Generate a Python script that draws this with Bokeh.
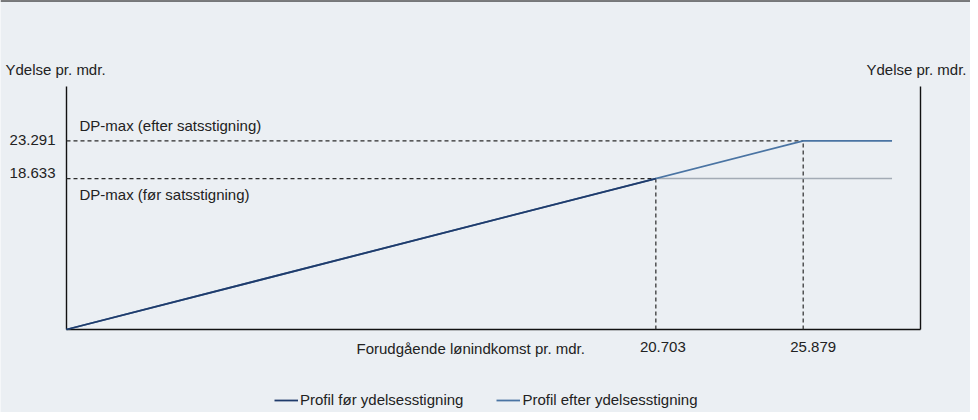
from bokeh.plotting import figure
from bokeh.models import Range1d, Label, Legend, LegendItem, ColumnDataSource
from bokeh.embed import file_html
from bokeh.resources import INLINE

# ---- data ----
dp_max = [18633, 23291]            # before / after rate increase
income_threshold = [20703, 25879]  # income where max is reached
x_end = 29000
profile_before_x = [0, income_threshold[0]]
profile_before_y = [0, dp_max[0]]
profile_before_flat_x = [income_threshold[0], x_end]
profile_before_flat_y = [dp_max[0], dp_max[0]]
profile_after_x = [0, income_threshold[1], x_end]
profile_after_y = [0, dp_max[1], dp_max[1]]
tick_labels_x = ["20.703", "25.879"]
tick_labels_y = ["18.633", "23.291"]
axis_max = 30000

BG = "#ebeff3"
FONT = "Liberation Sans"
FS = "15px"
TXT = "#222222"

# layout: canvas 970x412, axis box from px (66, 86) to (920, 329)
W, H = 970, 412
L, R, T, B = 66, 920, 86, 329
sx = axis_max / (R - L)
sy = axis_max / (B - T)
x_range = Range1d(-L * sx, (W - L) * sx)
y_range = Range1d(-(H - B) * sy, axis_max + T * sy)

p = figure(width=W, height=H, output_backend="svg", toolbar_location=None,
           x_range=x_range, y_range=y_range,
           min_border=0, min_border_left=0, min_border_right=0,
           min_border_top=0, min_border_bottom=0,
           background_fill_color=BG, border_fill_color=BG,
           outline_line_color=None)
p.xaxis.visible = False
p.yaxis.visible = False
p.xgrid.visible = False
p.ygrid.visible = False

# top rule of the panel
p.segment(x0=[x_range.start], y0=[y_range.end], x1=[x_range.end], y1=[y_range.end],
          line_color="#000000", line_width=2)

# frame lines (left, bottom, right)
p.segment(x0=[0, 0, axis_max], y0=[0, 0, 0], x1=[0, axis_max, axis_max],
          y1=[axis_max, 0, axis_max], line_color="#111111", line_width=1.4)

# dashed guide lines
dash_src = ColumnDataSource(dict(
    x0=[0, 0, income_threshold[0], income_threshold[1]],
    y0=[dp_max[0], dp_max[1], 0, 0],
    x1=[income_threshold[0], income_threshold[1], income_threshold[0], income_threshold[1]],
    y1=[dp_max[0], dp_max[1], dp_max[0], dp_max[1]]))
p.segment("x0", "y0", "x1", "y1", source=dash_src, line_color="#2a2a2a",
          line_width=1.2, line_dash="4 3")

# profiles
p.line(profile_before_flat_x, profile_before_flat_y, line_color="#a3abb5", line_width=1.5)
r_after = p.line(profile_after_x, profile_after_y, line_color="#4a74a3", line_width=1.8)
r_before = p.line(profile_before_x, profile_before_y, line_color="#1f3b6b", line_width=1.8)

def lab(text, x, y, xo, yo, align="left", baseline="middle"):
    p.add_layout(Label(x=x, y=y, x_offset=xo, y_offset=yo, text=text,
                       text_font=FONT, text_font_size=FS, text_color=TXT,
                       text_align=align, text_baseline=baseline))

lab("Ydelse pr. mdr.", 0, axis_max, -61, 17)
lab("Ydelse pr. mdr.", axis_max, axis_max, 46, 17, align="right")
lab("DP-max (efter satsstigning)", 0, dp_max[1], 13, 15)
lab("DP-max (før satsstigning)", 0, dp_max[0], 13, -16)
lab(tick_labels_y[1], 0, dp_max[1], -11, 1, align="right")
lab(tick_labels_y[0], 0, dp_max[0], -11, 6, align="right")
lab(tick_labels_x[0], income_threshold[0], 0, 7, -17, align="center")
lab(tick_labels_x[1], income_threshold[1], 0, 10, -17, align="center")
lab("Forudgående lønindkomst pr. mdr.", 0, 0, 290, -19)

legend = Legend(items=[LegendItem(label="Profil før ydelsesstigning", renderers=[r_before]),
                       LegendItem(label="Profil efter ydelsesstigning", renderers=[r_after])],
                location=(L + 208, 4), orientation="horizontal",
                background_fill_alpha=0, border_line_color=None,
                label_text_font=FONT, label_text_font_size=FS, label_text_color=TXT,
                glyph_width=24, glyph_height=14, label_standoff=2, spacing=33,
                padding=0, margin=0, label_height=14)
p.add_layout(legend, "center")

open("out.html", "w").write(file_html(p, INLINE))
